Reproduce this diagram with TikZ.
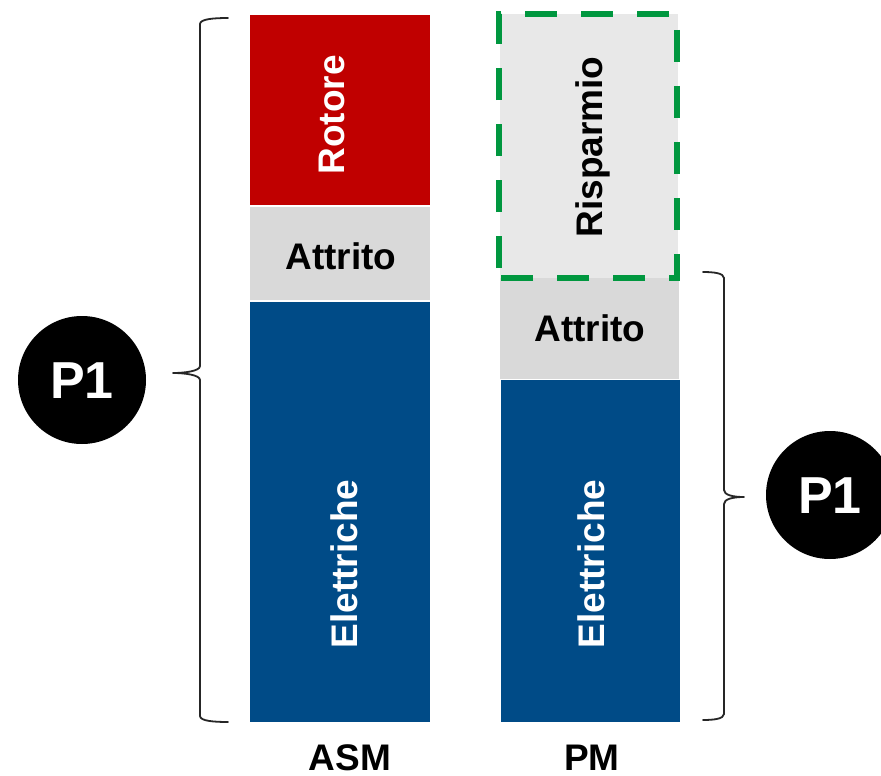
\documentclass[tikz,border=0pt]{standalone}
\usepackage{fontspec}
\setmainfont{Liberation Sans}
\definecolor{rotred}{HTML}{C00000}
\definecolor{elblue}{HTML}{004B87}
\definecolor{attgray}{HTML}{D9D9D9}
\definecolor{savgray}{HTML}{E8E8E8}
\definecolor{dashgreen}{HTML}{00973F}
\begin{document}
\begin{tikzpicture}[x=1pt,y=-1pt]
\tikzset{
  lbl/.style={font=\fontsize{37}{40}\selectfont\bfseries, inner sep=0pt, text height=26.6pt, text depth=0pt},
  vlbl/.style={lbl, rotate=90},
  bracepath/.style={draw=black!85, line width=1.8pt, line cap=round, line join=round},
  pone/.style={circle, fill=black, minimum size=128pt, inner sep=0pt, text=white,
               font=\fontsize{52}{56}\selectfont\bfseries, text height=37.4pt, text depth=0pt}
}
\useasboundingbox (0,0) rectangle (881,776);
\fill[white] (0,0) rectangle (881,776);

% ASM column
\fill[rotred] (250,15) rectangle (430,205);
\fill[attgray] (250,207) rectangle (430,300);
\fill[elblue] (250,302) rectangle (430,722);
\node[vlbl, white] (rotore) at (331,115) {Rotore};
\node[lbl] (attA) at (341,256) {Attrito};
\node[vlbl, white] (eleA) at (344,564) {Elettriche};
\node[lbl] (asm) at (350,757) {ASM};

% PM column
\fill[savgray] (500,14) rectangle (678,278);
\fill[attgray] (500,278) rectangle (679,379);
\fill[elblue] (501,380) rectangle (680,722);
\draw[dashgreen, line width=6pt, dash pattern=on 32pt off 24pt, dash phase=46pt]
  (499,278) -- (499,14) -- (677,14) -- (677,278) -- (499,278);
\node[vlbl] (risp) at (589,147) {Risparmio};
\node[lbl] (attP) at (590,328) {Attrito};
\node[vlbl, white] (eleP) at (591,564) {Elettriche};
\node[lbl] (pm) at (592,757) {PM};

% left brace
\draw[bracepath] (228,18) .. controls (214,18) and (200,19) .. (200,24)
  -- (200,366) .. controls (200,371) and (185,373) .. (173,373)
  .. controls (185,373) and (200,375) .. (200,380)
  -- (200,716) .. controls (200,721) and (214,722) .. (228,722);
% right brace
\draw[bracepath] (703,272) .. controls (713,272) and (724,273) .. (724,278)
  -- (724,490) .. controls (724,495) and (733,497) .. (744,497)
  .. controls (733,497) and (724,499) .. (724,504)
  -- (724,714) .. controls (724,719) and (713,720) .. (703,720);

% P1 circles
\node[pone] (p1a) at (82,380) {P1};
\node[pone] (p1b) at (830,495) {P1};
\end{tikzpicture}
\end{document}
